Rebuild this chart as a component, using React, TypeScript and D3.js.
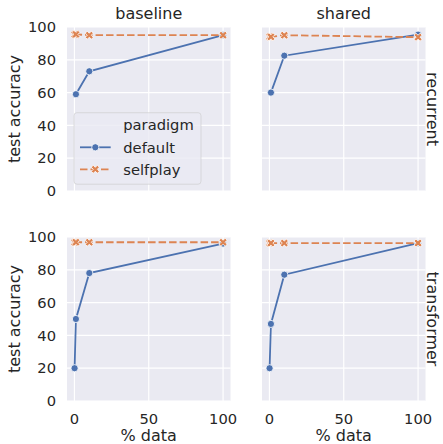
import React from 'react';
import * as d3 from 'd3';

// facets
const columns = ['baseline', 'shared'];
const rows = ['recurrent', 'transformer'];

// % data used for each run
const xFewer = [1, 10, 100];
const xAll = [0.1, 1, 10, 100];

// test accuracy per facet (row, column)
const baselineRecurrentDefault = [59, 73, 95];
const baselineRecurrentSelfplay = [95.5, 95.5, 95, 95];
const sharedRecurrentDefault = [60, 82.5, 95.3];
const sharedRecurrentSelfplay = [94, 94, 95, 93.8];
const baselineTransformerDefault = [20, 50, 78, 96];
const baselineTransformerSelfplay = [96.8, 96.8, 96.8, 96.8];
const sharedTransformerDefault = [20, 47, 77, 96.2];
const sharedTransformerSelfplay = [96.3, 96.3, 96.3, 96.3];

const xTicks = [0, 50, 100];
const yTicks = [0, 20, 40, 60, 80, 100];

const paradigms = ['default', 'selfplay'];

const COLORS = { default: '#4C72B0', selfplay: '#DD8452' };
const BG = '#EAEAF2';
const TEXT = '#262626';
const FONT = 'DejaVu Sans, sans-serif';
const TICK_FS = 14.7;
const LABEL_FS = 16;
const DASH = '7.5,3';
const LW = 1.8;

const lefts = [67, 262];
const tops = [27, 237];
const pw = 163.5;
const ph = 164;

const facetData = [
  [
    { def: [xFewer, baselineRecurrentDefault], sp: [xAll, baselineRecurrentSelfplay] },
    { def: [xFewer, sharedRecurrentDefault], sp: [xAll, sharedRecurrentSelfplay] },
  ],
  [
    { def: [xAll, baselineTransformerDefault], sp: [xAll, baselineTransformerSelfplay] },
    { def: [xAll, sharedTransformerDefault], sp: [xAll, sharedTransformerSelfplay] },
  ],
];

const xMarkPath = (() => {
  const a = 4.3, b = 1.4;
  const pts = [[b, a], [b, b], [a, b], [a, -b], [b, -b], [b, -a], [-b, -a], [-b, -b], [-a, -b], [-a, b], [-b, b], [-b, a]];
  const c = Math.SQRT1_2;
  return 'M' + pts.map(([x, y]) => `${(x - y) * c},${(x + y) * c}`).join('L') + 'Z';
})();

const Marker = ({ kind, x, y }: { kind: string; x: number; y: number }) =>
  kind === 'default' ? (
    <circle cx={x} cy={y} r={3.6} fill={COLORS.default} stroke="white" strokeWidth={0.8} />
  ) : (
    <path d={xMarkPath} transform={`translate(${x},${y})`} fill={COLORS.selfplay} stroke="white" strokeWidth={0.8} />
  );

const Panel = ({ r, c }: { r: number; c: number }) => {
  const x = d3.scaleLinear().domain([-5, 105]).range([0, pw]);
  const y = d3.scaleLinear().domain([0, 100]).range([ph, 0]);
  const line = d3.line<[number, number]>().x((d) => x(d[0])).y((d) => y(d[1]));
  const f = facetData[r][c];
  const series = [
    { kind: 'default', pts: f.def[0].map((v, i) => [v, f.def[1][i]] as [number, number]) },
    { kind: 'selfplay', pts: f.sp[0].map((v, i) => [v, f.sp[1][i]] as [number, number]) },
  ];
  return (
    <g transform={`translate(${lefts[c]},${tops[r]})`}>
      <rect width={pw} height={ph} fill={BG} />
      {xTicks.map((t) => (
        <line key={'x' + t} x1={x(t)} x2={x(t)} y1={0} y2={ph} stroke="white" strokeWidth={1.2} />
      ))}
      {yTicks.map((t) => (
        <line key={'y' + t} x1={0} x2={pw} y1={y(t)} y2={y(t)} stroke="white" strokeWidth={1.2} />
      ))}
      {series.map((s) => (
        <g key={s.kind}>
          <path
            d={line(s.pts) || ''}
            fill="none"
            stroke={COLORS[s.kind as 'default' | 'selfplay']}
            strokeWidth={LW}
            strokeDasharray={s.kind === 'selfplay' ? DASH : undefined}
          />
          {s.pts.map((p, i) => (
            <Marker key={i} kind={s.kind} x={x(p[0])} y={y(p[1])} />
          ))}
        </g>
      ))}
      {c === 0 &&
        yTicks.map((t) => (
          <text key={'yl' + t} x={-11} y={y(t)} dy="0.36em" textAnchor="end" fontSize={TICK_FS} fill={TEXT}>
            {t}
          </text>
        ))}
      {r === 1 &&
        xTicks.map((t) => (
          <text key={'xl' + t} x={x(t)} y={ph + 22.5} textAnchor="middle" fontSize={TICK_FS} fill={TEXT}>
            {t}
          </text>
        ))}
      {r === 0 && (
        <text x={pw / 2} y={-8} textAnchor="middle" fontSize={LABEL_FS} fill={TEXT}>
          {columns[c]}
        </text>
      )}
      {c === 1 && (
        <text transform={`translate(${pw + 1},${ph / 2}) rotate(90)`} textAnchor="middle" fontSize={LABEL_FS} fill={TEXT}>
          {rows[r]}
        </text>
      )}
      {c === 0 && (
        <text transform={`translate(${19.5 - lefts[0]},${ph / 2}) rotate(-90)`} textAnchor="middle" fontSize={LABEL_FS} fill={TEXT}>
          test accuracy
        </text>
      )}
      {r === 1 && (
        <text x={pw / 2} y={ph + 40.3} textAnchor="middle" fontSize={LABEL_FS} fill={TEXT}>
          % data
        </text>
      )}
    </g>
  );
};

const Legend = () => (
  <g transform="translate(74,112.7)">
    <rect width={127} height={71.5} rx={3} fill={BG} fillOpacity={0.8} stroke="#CCCCCC" strokeOpacity={0.8} strokeWidth={0.8} />
    <text x={49.3} y={17.5} fontSize={TICK_FS} fill={TEXT}>paradigm</text>
    {paradigms.map((p, i) => {
      const cy = 34.6 + i * 22;
      return (
        <g key={p}>
          <line
            x1={6}
            x2={36.7}
            y1={cy}
            y2={cy}
            stroke={COLORS[p as 'default' | 'selfplay']}
            strokeWidth={LW}
            strokeDasharray={p === 'selfplay' ? DASH : undefined}
          />
          <Marker kind={p} x={21.3} y={cy} />
          <text x={49.3} y={cy} dy="0.36em" fontSize={TICK_FS} fill={TEXT}>{p}</text>
        </g>
      );
    })}
  </g>
);

export default function App() {
  return (
    <svg width={443} height={444} style={{ position: 'absolute', left: 0, top: 0, fontFamily: FONT }}>
      <rect width={443} height={444} fill="white" />
      {rows.map((_, r) => columns.map((__, c) => <Panel key={`${r}-${c}`} r={r} c={c} />))}
      <Legend />
    </svg>
  );
}
